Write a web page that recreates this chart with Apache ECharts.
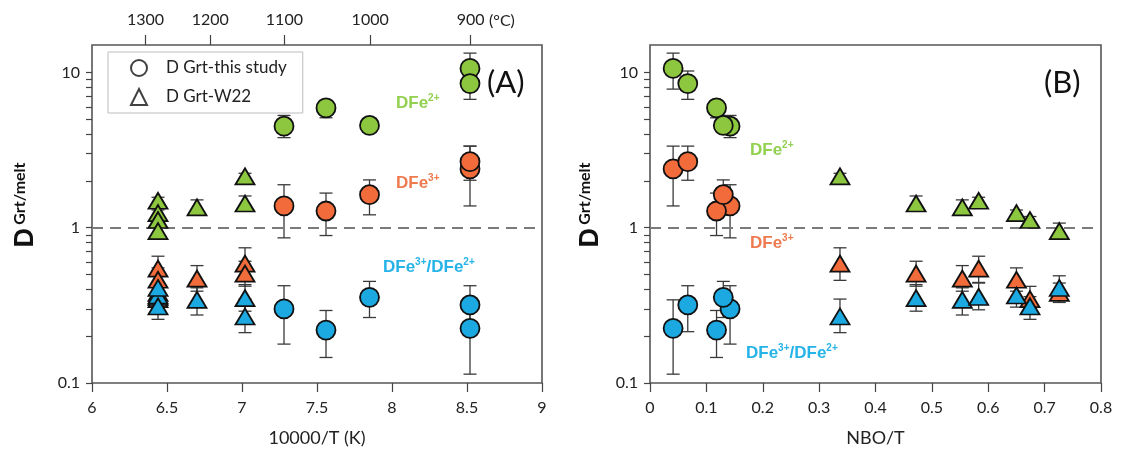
<!DOCTYPE html>
<html>
<head>
<meta charset="utf-8">
<script src="https://cdn.jsdelivr.net/npm/echarts@6/dist/echarts.min.js"></script>
<style>
html,body{margin:0;padding:0;background:#fff;}
#chart{width:1121px;height:466px;}
</style>
</head>
<body>
<div id="chart"></div>
<script>
// ---------- DATA ----------
// This study (5 experiments)
const studyInvT   = [8.52, 8.52, 7.28, 7.56, 7.85];
const studyNBO    = [0.041, 0.067, 0.142, 0.118, 0.130];
const studyFe2    = [10.6, 8.47, 4.5, 5.9, 4.55];
const studyFe2Lo  = [7.8, 6.7, 3.8, 5.1, 4.3];
const studyFe2Hi  = [13.3, 10.2, 5.28, 6.6, 4.8];
const studyFe3    = [2.39, 2.66, 1.38, 1.28, 1.63];
const studyFe3Lo  = [1.38, 2.02, 0.86, 0.89, 1.21];
const studyFe3Hi  = [3.35, 3.35, 1.89, 1.67, 2.03];
const studyRat    = [0.225, 0.318, 0.30, 0.219, 0.356];
const studyRatLo  = [0.114, 0.214, 0.178, 0.146, 0.264];
const studyRatHi  = [0.343, 0.423, 0.423, 0.293, 0.451];
// W22 (7 experiments)
const w22InvT   = [7.02, 7.02, 6.70, 6.44, 6.44, 6.44, 6.44];
const w22NBO    = [0.337, 0.472, 0.554, 0.583, 0.650, 0.674, 0.726];
const w22Fe2    = [2.14, 1.43, 1.35, 1.49, 1.24, 1.12, 0.95];
const w22Fe2Lo  = [2.05, 1.36, 1.29, 1.42, 1.18, 1.07, 0.91];
const w22Fe2Hi  = [2.24, 1.60, 1.51, 1.57, 1.30, 1.18, 1.07];
const w22Fe3    = [0.587, 0.506, 0.47, 0.545, 0.462, 0.347, 0.38];
const w22Fe3Lo  = [0.458, 0.42, 0.39, 0.444, 0.39, 0.30, 0.33];
const w22Fe3Hi  = [0.742, 0.608, 0.57, 0.655, 0.551, 0.419, 0.44];
const w22Rat    = [0.268, 0.352, 0.343, 0.358, 0.366, 0.311, 0.409];
const w22RatLo  = [0.211, 0.29, 0.274, 0.296, 0.308, 0.257, 0.34];
const w22RatHi  = [0.347, 0.43, 0.41, 0.44, 0.42, 0.36, 0.49];
// Axis ticks
const tempTicksC = [1300, 1200, 1100, 1000, 900];
const yLabelVals = [0.1, 1, 10];
const yTickVals  = [0.1,0.2,0.3,0.4,0.5,0.6,0.7,0.8,0.9,1,2,3,4,5,6,7,8,9,10];

// ---------- STYLE ----------
const GREEN = '#8DC63F', ORANGE = '#F26B3A', BLUE = '#1CA9E1';
const GREEN_T = '#92D050', ORANGE_T = '#EE7B4F', BLUE_T = '#25B3E8';
const tempTickPos = tempTicksC.map(c => 10000 / (c + 273.15));

function pairs(xs, ys){ return xs.map((x,i)=>[x, ys[i]]); }
function triples(xs, lo, hi){ return xs.map((x,i)=>[x, lo[i], hi[i]]); }

function errRender(params, api){
  const x = api.value(0), lo = api.value(1), hi = api.value(2);
  const p1 = api.coord([x, hi]), p2 = api.coord([x, lo]);
  const hw = 6.5;
  const st = {stroke:'#3a3a3a', lineWidth:1.3};
  return {type:'group', children:[
    {type:'line', shape:{x1:p1[0], y1:p1[1], x2:p2[0], y2:p2[1]}, style:st},
    {type:'line', shape:{x1:p1[0]-hw, y1:p1[1], x2:p1[0]+hw, y2:p1[1]}, style:st},
    {type:'line', shape:{x1:p2[0]-hw, y1:p2[1], x2:p2[0]+hw, y2:p2[1]}, style:st}
  ]};
}
function errSeries(xi, yi, xs, lo, hi){
  return {type:'custom', xAxisIndex:xi, yAxisIndex:yi, renderItem:errRender,
    data: triples(xs, lo, hi), encode:{x:0, y:[1,2]}, z:2, silent:true};
}
function scat(xi, yi, xs, ys, color, symbol){
  return {type:'scatter', xAxisIndex:xi, yAxisIndex:yi, data:pairs(xs, ys),
    symbol: symbol, symbolSize: symbol==='circle' ? 19 : [19,16],
    itemStyle:{color:color, borderColor:'#111', borderWidth:1.8, opacity:1}, z:5, silent:true};
}

const axisFont = {fontFamily:'Lato', fontSize:16, color:'#222'};

function makeGridAxes(){
  const xAxes = [
    {gridIndex:0, type:'value', position:'bottom', min:6, max:9, interval:0.5,
     axisLine:{show:false}, splitLine:{show:false},
     axisTick:{show:true, length:9, lineStyle:{color:'#444', width:1.2}},
     axisLabel:Object.assign({margin:17}, axisFont),
     name:'10000/T (K)', nameLocation:'middle', nameGap:46,
     nameTextStyle:{fontFamily:'Lato', fontSize:18, color:'#222'}},
    {gridIndex:0, type:'value', position:'top', min:6, max:9,
     axisLine:{show:false}, splitLine:{show:false},
     axisTick:{show:true, length:10, customValues: tempTickPos, lineStyle:{color:'#444', width:1.2}},
     axisLabel:Object.assign({margin:17, customValues: tempTickPos,
       formatter: v => String(Math.round((10000/v - 273.15)/10)*10)}, axisFont)},
    {gridIndex:1, type:'value', position:'bottom', min:0, max:0.8, interval:0.1,
     axisLine:{show:false}, splitLine:{show:false},
     axisTick:{show:true, length:9, lineStyle:{color:'#444', width:1.2}},
     axisLabel:Object.assign({margin:17, formatter: v => String(+v.toFixed(1))}, axisFont),
     name:'NBO/T', nameLocation:'middle', nameGap:46,
     nameTextStyle:{fontFamily:'Lato', fontSize:18, color:'#222'}}
  ];
  const yBase = gi => ({gridIndex:gi, type:'log', logBase:10, min:0.1, max:15,
     axisLine:{show:false}, splitLine:{show:false}, minorTick:{show:false},
     axisTick:{show:true, length:6, customValues: yTickVals, lineStyle:{color:'#444', width:1.2}},
     axisLabel:Object.assign({margin:12, customValues: yLabelVals, formatter: v => String(+(+v).toPrecision(2))}, axisFont)});
  return {xAxes, yAxes:[yBase(0), yBase(1)]};
}
const ax = makeGridAxes();

const refLine = {silent:true, symbol:'none', label:{show:false},
  lineStyle:{type:[11,7], color:'#7a7a7a', width:2}, data:[{yAxis:1}]};

function panelSeries(xi, yi, sx, wx){
  return [
    errSeries(xi, yi, sx, studyFe2Lo, studyFe2Hi),
    errSeries(xi, yi, sx, studyFe3Lo, studyFe3Hi),
    errSeries(xi, yi, sx, studyRatLo, studyRatHi),
    errSeries(xi, yi, wx, w22Fe2Lo, w22Fe2Hi),
    errSeries(xi, yi, wx, w22Fe3Lo, w22Fe3Hi),
    errSeries(xi, yi, wx, w22RatLo, w22RatHi),
    Object.assign(scat(xi, yi, wx, w22Fe2, GREEN, 'triangle'), {markLine: refLine}),
    scat(xi, yi, wx, w22Fe3, ORANGE, 'triangle'),
    scat(xi, yi, wx, w22Rat, BLUE, 'triangle'),
    scat(xi, yi, sx, studyFe2, GREEN, 'circle'),
    scat(xi, yi, sx, studyFe3, ORANGE, 'circle'),
    scat(xi, yi, sx, studyRat, BLUE, 'circle')
  ];
}

const series = [].concat(
  panelSeries(0, 0, studyInvT, w22InvT),
  panelSeries(2, 1, studyNBO, w22NBO),
  [
    {type:'scatter', name:'D Grt-this study', data:[], xAxisIndex:0, yAxisIndex:0,
     symbol:'circle', itemStyle:{color:'#fff', borderColor:'#111', borderWidth:2}},
    {type:'scatter', name:'D Grt-W22', data:[], xAxisIndex:0, yAxisIndex:0,
     symbol:'triangle', itemStyle:{color:'#fff', borderColor:'#111', borderWidth:2}}
  ]
);

function richSty(color){
  return {m:{fontFamily:'Liberation Sans', fontWeight:'bold', fontSize:17, lineHeight:20, fill:color, verticalAlign:'middle'},
          s:{fontFamily:'Liberation Sans', fontWeight:'bold', fontSize:10, lineHeight:10, fill:color, verticalAlign:'top'}};
}
function labelText(x, y, main, sup, color){
  return {type:'text', left:x, top:y, silent:true,
    style:{text:'{m|'+main+'}{s|'+sup+'}', fill:color, rich:richSty(color)}};
}
function ratioText(x, y){
  return {type:'text', left:x, top:y, silent:true,
    style:{text:'{m|DFe}{s|3+}{m|/DFe}{s|2+}', fill:BLUE_T, rich:richSty(BLUE_T)}};
}
function yTitle(x, y){
  return {type:'text', x:x, y:y, rotation:Math.PI/2, silent:true,
    style:{text:'{d|D} {s|Grt/melt}', fill:'#111', align:'center', verticalAlign:'middle',
      rich:{d:{fontFamily:'Liberation Sans', fontWeight:'bold', fontSize:27, lineHeight:28, fill:'#111', verticalAlign:'middle'},
            s:{fontFamily:'Lato', fontWeight:'bold', fontSize:16, lineHeight:16, fill:'#111', verticalAlign:'top'}}}};
}

const option = {
  backgroundColor:'#fff',
  animation:false,
  grid:[
    {left:92, right:579, top:45, bottom:83, show:true, borderColor:'#555', borderWidth:1.6, backgroundColor:'transparent'},
    {left:650, right:20, top:45, bottom:83, show:true, borderColor:'#555', borderWidth:1.6, backgroundColor:'transparent'}
  ],
  xAxis: ax.xAxes,
  yAxis: ax.yAxes,
  legend:{left:108, top:52, orient:'vertical', itemGap:11, itemWidth:16, itemHeight:16,
    padding:[7,16,7,22], borderColor:'#bdbdbd', borderWidth:1, backgroundColor:'#fff',
    textStyle:{fontFamily:'Lato', fontSize:17, color:'#222', padding:[0,0,0,14]},
    data:[
      {name:'D Grt-this study', icon:'circle', itemStyle:{color:'#fff', borderColor:'#111', borderWidth:2}},
      {name:'D Grt-W22', icon:'triangle', itemStyle:{color:'#fff', borderColor:'#111', borderWidth:2}}
    ], selectedMode:false},
  graphic:[
    {type:'text', left:489, top:13, silent:true, style:{text:'(°C)', fontFamily:'Lato', fontSize:16, fill:'#222'}},
    {type:'text', left:487, top:67, silent:true, style:{text:'(A)', fontFamily:'Lato', fontSize:31, fill:'#111'}},
    {type:'text', left:1044, top:67, silent:true, style:{text:'(B)', fontFamily:'Lato', fontSize:31, fill:'#111'}},
    labelText(396, 93, 'DFe', '2+', GREEN_T),
    labelText(396, 173, 'DFe', '3+', ORANGE_T),
    ratioText(383, 257),
    labelText(750, 140, 'DFe', '2+', GREEN_T),
    labelText(750, 233, 'DFe', '3+', ORANGE_T),
    ratioText(746, 343),
    yTitle(26, 205),
    yTitle(591, 205)
  ],
  series: series
};

const chart = echarts.init(document.getElementById('chart'), null, {renderer:'canvas'});
chart.setOption(option);
</script>
</body>
</html>
